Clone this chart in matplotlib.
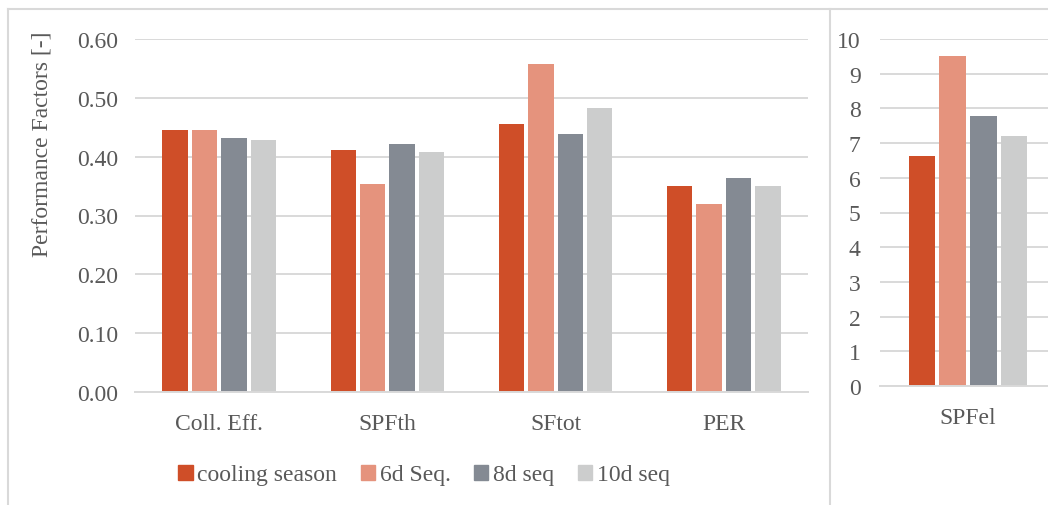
import matplotlib
matplotlib.use("Agg")
import matplotlib.pyplot as plt
import numpy as np
from matplotlib.patches import Rectangle
from matplotlib.lines import Line2D

plt.rcParams['font.family'] = ['Liberation Serif', 'DejaVu Serif']

# data
categories = ["Coll. Eff.", "SPFth", "SFtot", "PER"]
series_names = ["cooling season", "6d Seq.", "8d seq", "10d seq"]
cooling = [0.445, 0.411, 0.456, 0.350]
seq6 = [0.445, 0.354, 0.558, 0.320]
seq8 = [0.432, 0.422, 0.439, 0.364]
seq10 = [0.428, 0.408, 0.483, 0.350]

spfel_category = ["SPFel"]
spfel = [6.63, 9.51, 7.78, 7.20]

colors = ["#CF4E28", "#E5937D", "#848A93", "#CCCDCD"]
text_col = "#595959"
grid_col = "#D9D9D9"
fs = 17

W, H = 1048, 506
fig = plt.figure(figsize=(W / 100, H / 100), dpi=100)


def px_axes(x0, y0, x1, y1):
    # pixel box (top-left origin) -> figure axes
    return fig.add_axes([x0 / W, 1 - y1 / H, (x1 - x0) / W, (y1 - y0) / H])


def style(ax):
    for s in ["top", "right", "left"]:
        ax.spines[s].set_visible(False)
    ax.spines["bottom"].set_color(grid_col)
    ax.spines["bottom"].set_linewidth(1.4)
    ax.grid(axis="y", color=grid_col, linewidth=1.4)
    ax.set_axisbelow(True)
    ax.tick_params(axis="both", length=0, labelsize=fs, colors=text_col)
    ax.tick_params(axis="x", pad=15)


ax1 = px_axes(135, 40, 808, 393)
ax2 = px_axes(880, 40, 1056, 387)

slot = 0.7 / 4
bw = slot * 0.86
left_series = [cooling, seq6, seq8, seq10]
x = np.arange(len(categories))
for i, vals in enumerate(left_series):
    ax1.bar(x + (i - 1.5) * slot, vals, bw, color=colors[i], label=series_names[i])
ax1.set_xlim(-0.5, len(categories) - 0.5)
ax1.set_ylim(0, 0.6)
ax1.set_yticks(np.arange(0, 0.61, 0.1))
ax1.set_yticklabels([f"{v:.2f}" for v in np.arange(0, 0.61, 0.1)])
ax1.set_xticks(x)
ax1.set_xticklabels(categories)
style(ax1)
ax1.tick_params(axis="y", pad=12)

x2 = np.arange(len(spfel_category))
for i, v in enumerate(spfel):
    ax2.bar(x2 + (i - 1.5) * slot, [v], bw, color=colors[i])
ax2.set_xlim(-0.5, 0.5)
ax2.set_ylim(0, 10)
ax2.set_yticks(range(0, 11))
ax2.set_xticks(x2)
ax2.set_xticklabels(spfel_category)
style(ax2)
ax2.tick_params(axis="y", pad=14)

fig.text(42 / W, 1 - 144 / H, "Performance Factors [-]", rotation=90,
         ha="center", va="center", fontsize=fs, color=text_col)

handles = [Rectangle((0, 0), 1, 1, color=c) for c in colors]
leg = fig.legend(handles, series_names, loc="center", ncol=4,
                 bbox_to_anchor=(424 / W, 1 - 476 / H), frameon=False,
                 fontsize=fs, handlelength=0.6, handleheight=0.6,
                 handletextpad=0.2, columnspacing=1.0, borderaxespad=0)
for t in leg.get_texts():
    t.set_color(text_col)

# outer frame and divider
fig.add_artist(Line2D([8 / W, 8 / W], [0, 1 - 10 / H], color=grid_col, lw=1.5))
fig.add_artist(Line2D([8 / W, 1], [1 - 10 / H, 1 - 10 / H], color=grid_col, lw=1.5))
fig.add_artist(Line2D([830 / W, 830 / W], [0, 1 - 10 / H], color=grid_col, lw=1.5))

plt.savefig("out.png", dpi=100)
plt.close()
